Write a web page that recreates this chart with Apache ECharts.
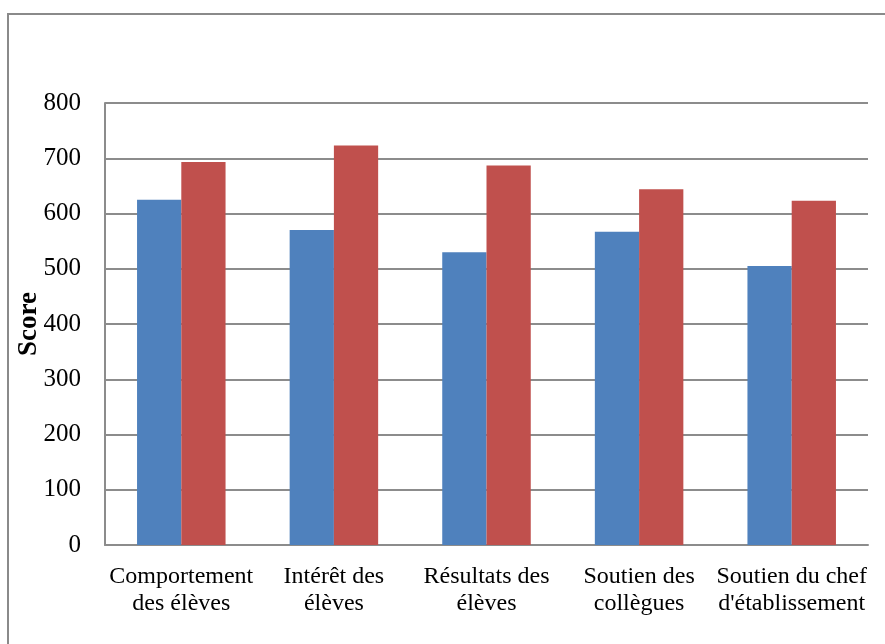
<!DOCTYPE html>
<html>
<head>
<meta charset="utf-8">
<script src="https://cdn.jsdelivr.net/npm/echarts@6/dist/echarts.min.js"></script>
<style>
  html, body { margin: 0; padding: 0; background: #ffffff; }
  #chart { width: 885px; height: 644px; }
</style>
</head>
<body>
<div id="chart"></div>
<script>
// Category labels (two lines each)
var categories = [
  'Comportement\ndes élèves',
  'Intérêt des\nélèves',
  'Résultats des\nélèves',
  'Soutien des\ncollègues',
  'Soutien du chef\nd\'établissement'
];
// Scores for the two groups
var seriesBlue = [625, 570, 530, 567, 505];
var seriesRed = [693, 723, 687, 644, 623];
// Value axis ticks
var yMin = 0, yMax = 800, yStep = 100;

var font = '"Liberation Serif", "Times New Roman", serif';
var gridColor = '#8c8c8c';

var chart = echarts.init(document.getElementById('chart'), null, { renderer: 'canvas' });
chart.setOption({
  animation: false,
  backgroundColor: '#ffffff',
  graphic: [{
    type: 'rect',
    shape: { x: 8, y: 14, width: 900, height: 700 },
    style: { fill: 'none', stroke: '#8a8a8a', lineWidth: 2 },
    silent: true
  }],
  grid: { left: 105, right: 17, top: 103, bottom: 99, outerBoundsMode: 'none' },
  xAxis: {
    type: 'category',
    data: categories,
    axisLine: { show: true, lineStyle: { color: gridColor, width: 2 } },
    axisTick: { show: false },
    axisLabel: {
      interval: 0,
      margin: 18,
      fontFamily: font,
      fontSize: 24,
      lineHeight: 27,
      color: '#000'
    }
  },
  yAxis: {
    type: 'value',
    min: yMin,
    max: yMax,
    interval: yStep,
    name: 'Score',
    nameLocation: 'middle',
    nameMoveOverlap: false,
    nameGap: 62,
    nameTextStyle: { fontFamily: font, fontSize: 27, fontWeight: 'bold', color: '#000' },
    axisLine: { show: true, lineStyle: { color: gridColor, width: 2 } },
    axisTick: { show: false },
    axisLabel: { margin: 24, fontFamily: font, fontSize: 25, color: '#000' },
    splitLine: { show: true, lineStyle: { color: gridColor, width: 2 } }
  },
  series: [{
    type: 'bar',
    data: seriesBlue,
    barGap: '0%',
    barCategoryGap: '42%',
    itemStyle: { color: '#4F81BD' }
  }, {
    type: 'bar',
    data: seriesRed,
    barGap: '0%',
    barCategoryGap: '42%',
    itemStyle: { color: '#C0504D' }
  }]
});
</script>
</body>
</html>
